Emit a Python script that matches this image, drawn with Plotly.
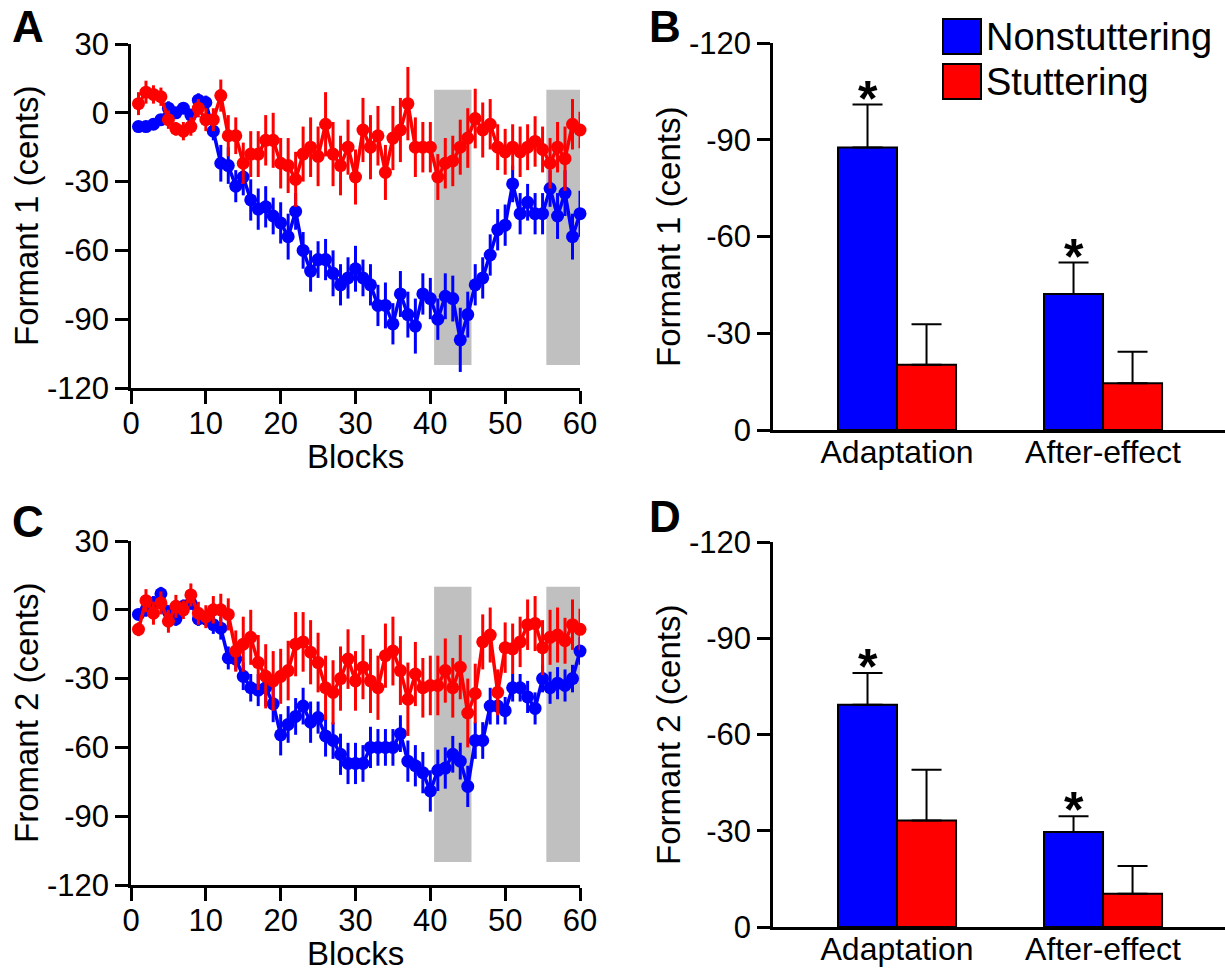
import plotly.graph_objects as go

W, H = 1225, 972
FONT = "Arial, Liberation Sans, sans-serif"
BLUE = "#0000ff"
RED = "#ff0000"

# ---------------- data ----------------
blocks = list(range(1, 61))

f1_nonstut = [-6, -6, -5, -3, 2, 0, 2, -1, 5.5, 4.5,
              -8, -22, -23, -32, -28, -38, -42, -41, -45, -48,
              -54, -43, -60, -69, -64, -64, -70, -75, -72, -68,
              -72, -75, -84, -84, -92, -79, -88, -93, -79, -81,
              -90, -80, -81, -99, -88, -75, -72, -62, -51, -49,
              -31, -44, -39, -44, -44, -33, -45, -35, -54, -44]
f1_nonstut_err = [2, 2, 2, 2, 3, 2, 2, 2, 3, 3,
                  4, 8, 8, 7, 8, 9, 9, 9, 8, 9,
                  10, 8, 8, 9, 8, 9, 10, 9, 9, 10,
                  8, 9, 9, 10, 9, 10, 10, 12, 9, 9,
                  9, 10, 10, 14, 10, 9, 9, 9, 9, 9,
                  8, 9, 8, 9, 9, 8, 10, 10, 10, 10]
f1_stut = [4, 9, 8, 7, -3, -7, -8, -6, 2, -3,
           -3, 7.5, -10, -10, -22, -18, -18, -12, -12, -22,
           -23, -29, -18, -15, -19, -5, -18, -23, -15, -28,
           -7.5, -15, -10, -26, -11, -7.5, 4, -15, -15, -15,
           -28, -22, -21, -15, -11, -2.5, -7.5, -5, -15, -17,
           -15, -17, -15, -12.5, -16, -22, -15, -20, -5, -7.5]
f1_stut_err = [5, 5, 4, 4, 4, 3, 4, 4, 4, 5,
               5, 7, 9, 8, 9, 10, 10, 11, 12, 11,
               12, 12, 12, 13, 13, 14, 14, 13, 12, 12,
               14, 14, 13, 12, 14, 14, 16, 13, 11, 11,
               10, 11, 11, 12, 13, 13, 12, 11, 10, 10,
               10, 11, 10, 11, 10, 11, 11, 14, 11, 8]

f2_nonstut = [-2, 0, 3, 7, -1, -4, 1.5, 3, -4, -4,
              -6.5, -8, -21, -21.5, -29, -34, -35, -34, -41, -54.5,
              -50, -46.5, -42, -49, -47, -55, -57, -63, -67, -67,
              -67, -60, -60, -60, -60, -54, -66, -68, -71, -79,
              -70, -69, -63, -66, -77, -57, -57, -42, -42, -44,
              -34, -34, -38, -43, -30, -34, -32, -33, -30, -18]
f2_nonstut_err = [2, 3, 3, 3, 3, 3, 3, 3, 3, 3,
                  4, 5, 5, 5, 6, 6, 7, 8, 8, 9,
                  8, 8, 8, 9, 7, 9, 8, 9, 9, 9,
                  8, 9, 8, 8, 8, 8, 9, 9, 9, 9,
                  9, 9, 8, 8, 9, 8, 8, 8, 8, 6,
                  6, 6, 7, 7, 6, 7, 7, 7, 6, 6]
f2_stut = [-8.5, 4, -1.5, 3, -5, 1.5, 0, 6.5, -1.5, -3,
           0, 0, -2, -18, -15, -12, -23, -29, -31, -29,
           -26.5, -15, -14, -18.5, -23, -34, -36, -30, -21.5, -31,
           -25, -31, -34, -20, -18, -26.5, -39, -28, -34, -33,
           -33, -26.5, -34, -25, -45, -36.5, -14, -11, -36, -16.5,
           -17, -14, -6.5, -6, -16.5, -12, -11, -13.5, -6.5, -8.5]
f2_stut_err = [3, 5, 5, 5, 5, 5, 4, 5, 5, 5,
               6, 7, 7, 9, 12, 12, 12, 14, 13, 12,
               13, 14, 13, 14, 13, 14, 14, 14, 13, 13,
               14, 14, 14, 14, 15, 15, 16, 14, 13, 13,
               13, 14, 13, 14, 15, 13, 12, 12, 10, 11,
               11, 11, 11, 12, 12, 12, 12, 10, 11, 9]

shade_windows = [(40.5, 45.5), (55.5, 60)]
shade_ylim = (-110, 10)

conditions = ["Adaptation", "After-effect"]
groups = ["Nonstuttering", "Stuttering"]
b_nonstut = [-87.6, -42.2]
b_nonstut_err = [13.3, 9.7]
b_stut = [-20.2, -14.5]
b_stut_err = [12.6, 9.8]
d_nonstut = [-69.3, -29.6]
d_nonstut_err = [9.9, 4.9]
d_stut = [-33.2, -10.4]
d_stut_err = [15.8, 8.6]
significant = [True, True]

line_ticks = [30, 0, -30, -60, -90, -120]
line_ticktext = ["30", "0", "-30", "-60", "-90", "-120"]
bar_ticks = [-120, -90, -60, -30, 0]
bar_ticktext = ["-120", "-90", "-60", "-30", "0"]
block_ticks = [0, 10, 20, 30, 40, 50, 60]
block_ticktext = ["0", "10", "20", "30", "40", "50", "60"]

# ---------------- layout helpers ----------------
def px_x(p):
    return p / W

def px_y(p):
    return 1 - p / H

fig = go.Figure()

AX = dict(showline=True, linecolor="black", linewidth=2.5, ticks="outside",
          ticklen=13, tickwidth=2.5, tickcolor="black", showgrid=False,
          zeroline=False, automargin=False,
          tickfont=dict(family=FONT, size=31, color="black"))

# panel geometry in pixels: (x_left, x_right, y_top, y_bottom)
geo = {
    "A": (131, 580, 44, 388),
    "C": (131, 580, 541, 885),
    "B": (773, 1225, 43, 430),
    "D": (773, 1225, 542, 927),
}

def dom(g):
    x0, x1, y0, y1 = g
    return [px_x(x0), px_x(x1)], [px_y(y1), px_y(y0)]

layout_axes = {}
for i, key in enumerate(["A", "B", "C", "D"], start=1):
    xd, yd = dom(geo[key])
    xn = "xaxis" if i == 1 else f"xaxis{i}"
    yn = "yaxis" if i == 1 else f"yaxis{i}"
    xa = "x" if i == 1 else f"x{i}"
    ya = "y" if i == 1 else f"y{i}"
    if key in ("A", "C"):
        layout_axes[xn] = dict(AX, domain=xd, anchor=ya, range=[0, 60],
                               tickvals=block_ticks, ticktext=block_ticktext,
                               ticklabelstandoff=-7)
        layout_axes[yn] = dict(AX, domain=yd, anchor=xa, range=[-120, 30],
                               tickvals=line_ticks, ticktext=line_ticktext)
    else:
        layout_axes[xn] = dict(AX, domain=xd, anchor=ya, range=[-0.602, 1.592],
                               ticks="", type="category", ticklabelstandoff=-8,
                               tickfont=dict(family=FONT, size=32, color="black"))
        layout_axes[yn] = dict(AX, domain=yd, anchor=xa, range=[0, -120],
                               tickvals=bar_ticks, ticktext=bar_ticktext)

# ---------------- line panels ----------------
def add_lines(xa, ya, nonstut, nonstut_err, stut, stut_err):
    for vals, errs, col, name in [(nonstut, nonstut_err, BLUE, groups[0]),
                                  (stut, stut_err, RED, groups[1])]:
        fig.add_trace(go.Scatter(
            x=blocks, y=vals, mode="lines+markers", name=name, showlegend=False,
            xaxis=xa, yaxis=ya, cliponaxis=False,
            line=dict(color=col, width=3.5),
            marker=dict(color=col, size=13, line=dict(width=0)),
            error_y=dict(type="data", array=errs, color=col, thickness=3, width=0),
        ))

add_lines("x", "y", f1_nonstut, f1_nonstut_err, f1_stut, f1_stut_err)
add_lines("x3", "y3", f2_nonstut, f2_nonstut_err, f2_stut, f2_stut_err)

shapes = []
for xa, ya in [("x", "y"), ("x3", "y3")]:
    for (s0, s1) in shade_windows:
        shapes.append(dict(type="rect", xref=xa, yref=ya, x0=s0, x1=s1,
                           y0=shade_ylim[0], y1=shade_ylim[1],
                           fillcolor="#c0c0c0", line=dict(width=0), layer="below"))

# ---------------- bar panels ----------------
annotations = []

def add_bars(xa, ya, nonstut, nonstut_err, stut, stut_err):
    for vals, errs, col, name in [(nonstut, nonstut_err, BLUE, groups[0]),
                                  (stut, stut_err, RED, groups[1])]:
        fig.add_trace(go.Bar(
            x=conditions, y=vals, name=name, showlegend=False,
            xaxis=xa, yaxis=ya,
            marker=dict(color=col, line=dict(color="black", width=2)),
            error_y=dict(type="data", symmetric=False, array=[0] * len(vals),
                         arrayminus=errs, color="black", thickness=2, width=15),
        ))
    for i, sig in enumerate(significant):
        if sig:
            annotations.append(dict(
                x=i - 0.1432, y=nonstut[i] - nonstut_err[i], xref=xa, yref=ya,
                text="<b>*</b>", showarrow=False, yanchor="middle", yshift=6,
                font=dict(family=FONT, size=50, color="black")))

add_bars("x2", "y2", b_nonstut, b_nonstut_err, b_stut, b_stut_err)
add_bars("x4", "y4", d_nonstut, d_nonstut_err, d_stut, d_stut_err)

# ---------------- text ----------------
def txt(x, y, s, size=32, bold=False, angle=0, xanchor="center"):
    annotations.append(dict(
        x=px_x(x), y=px_y(y), xref="paper", yref="paper",
        text=("<b>%s</b>" % s) if bold else s,
        showarrow=False, textangle=angle, xanchor=xanchor, yanchor="middle",
        font=dict(family=FONT, size=size, color="black")))

txt(28, 26, "A", size=44, bold=True)
txt(665, 26, "B", size=44, bold=True)
txt(28, 521, "C", size=44, bold=True)
txt(665, 516, "D", size=44, bold=True)

txt(26, 216, "Formant 1 (cents)", size=33, angle=-90)
txt(26, 713, "Fromant 2 (cents)", size=33, angle=-90)
txt(669, 237, "Formant 1 (cents)", size=33, angle=-90)
txt(668, 735, "Formant 2 (cents)", size=33, angle=-90)
txt(355, 457, "Blocks", size=33)
txt(355, 953, "Blocks", size=33)

# legend drawn manually
for j, (name, col) in enumerate(zip(groups, [BLUE, RED])):
    y0 = 19 + j * 45
    shapes.append(dict(type="rect", xref="paper", yref="paper",
                       x0=px_x(943), x1=px_x(981), y0=px_y(y0 + 35), y1=px_y(y0),
                       fillcolor=col, line=dict(color="black", width=2)))
    txt(984, y0 + 18, name, size=38, xanchor="left")

fig.update_layout(
    width=W, height=H, margin=dict(l=0, r=0, t=0, b=0),
    paper_bgcolor="white", plot_bgcolor="white",
    barmode="group", bargap=0.427, bargroupgap=0,
    showlegend=False, shapes=shapes, annotations=annotations,
    font=dict(family=FONT, color="black"),
    **layout_axes,
)

fig.write_html("out.html")
